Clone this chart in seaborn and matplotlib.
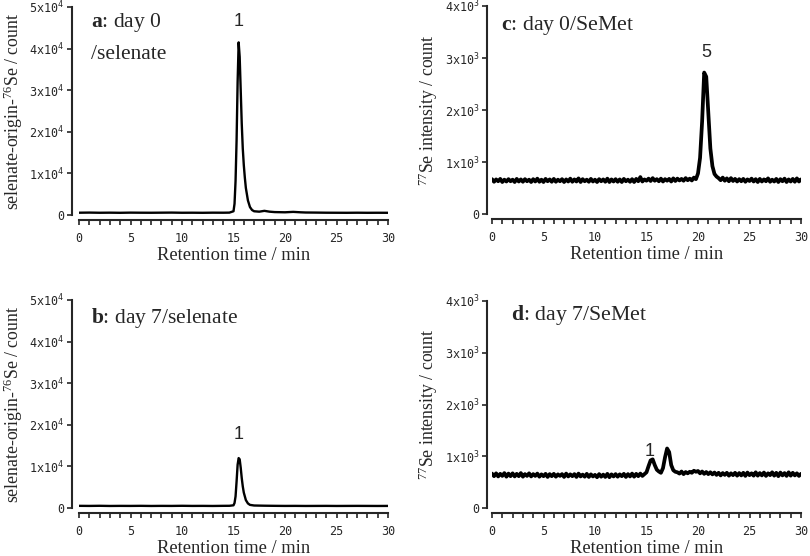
import numpy as np
import matplotlib
matplotlib.use("Agg")
import matplotlib.pyplot as plt
import seaborn as sns

# --- data ----------------------------------------------------------------
# a: day 0 / selenate (76Se, counts)
time_a = [0, 1, 2, 3, 4, 5, 6, 7, 8, 9, 10, 11, 12, 13, 14, 14.6, 15.0, 15.1,
          15.2, 15.3, 15.4, 15.5, 15.6, 15.7, 15.8, 15.9, 16.0, 16.1, 16.2, 16.4,
          16.6, 16.8, 17.0, 17.5, 18.0, 18.5, 19, 20, 20.8, 21.5, 22, 23, 24,
          25, 26, 27, 28, 29, 30]
signal_a = [550, 580, 540, 560, 530, 570, 550, 540, 560, 580, 540, 550, 530, 560,
            550, 570, 900, 2700, 8200, 18000, 32000, 41500, 38000, 30000, 22000,
            16000, 12000, 9000, 6500, 3500, 1900, 1200, 900, 800, 1000, 800, 700,
            650, 750, 650, 600, 580, 550, 540, 530, 550, 530, 540, 530]

# b: day 7 / selenate
time_b = [0, 1, 2, 3, 4, 5, 6, 7, 8, 9, 10, 11, 12, 13, 14, 14.6, 15.0, 15.1,
          15.2, 15.3, 15.4, 15.5, 15.6, 15.7, 15.8, 15.9, 16.0, 16.2, 16.4, 16.6,
          17.0, 18, 19, 20, 21, 22, 23, 24, 25, 26, 27, 28, 29, 30]
signal_b = [520, 500, 530, 490, 510, 500, 520, 490, 510, 500, 530, 500, 510, 490,
            520, 530, 650, 1200, 2800, 6400, 10400, 12000, 11700, 9700, 7200,
            5200, 3700, 1900, 1100, 750, 600, 550, 520, 500, 510, 490, 500, 510,
            490, 500, 510, 500, 490, 500]

# c and d: 77Se intensity sampled every 0.2 min from 0 to 30 min
time_cd = np.round(np.linspace(0, 30, 151), 1)
signal_c = [670, 620, 665, 630, 675, 615, 660, 625, 670, 630,
            660, 615, 675, 625, 665, 620, 670, 630, 660, 615,
            670, 625, 680, 620, 660, 615, 675, 630, 665, 620,
            675, 620, 660, 630, 670, 615, 665, 625, 680, 620,
            665, 625, 685, 615, 670, 630, 660, 620, 675, 625,
            660, 615, 670, 630, 665, 620, 680, 615, 665, 625,
            670, 620, 665, 615, 675, 630, 660, 620, 670, 615,
            675, 630, 710, 625, 665, 640, 680, 635, 690, 640,
            670, 630, 680, 625, 670, 640, 675, 625, 685, 635,
            680, 645, 675, 640, 690, 650, 680, 645, 700, 670,
            780, 1080, 1780, 2720, 2640, 1960, 1260, 920, 770, 720,
            690, 650, 700, 640, 685, 630, 690, 635, 675, 625,
            670, 630, 675, 620, 665, 635, 680, 625, 670, 615,
            675, 625, 665, 630, 685, 620, 660, 625, 675, 615,
            670, 630, 680, 615, 665, 625, 675, 620, 685, 625,
            665]
signal_d = [665, 615, 670, 610, 660, 620, 675, 605, 665, 615,
            670, 610, 660, 615, 675, 605, 655, 620, 670, 610,
            655, 620, 665, 605, 650, 615, 660, 600, 655, 615,
            660, 605, 650, 620, 655, 600, 665, 610, 650, 615,
            655, 600, 665, 610, 645, 605, 660, 600, 650, 610,
            640, 595, 655, 605, 645, 600, 660, 595, 650, 610,
            655, 605, 650, 615, 660, 600, 655, 610, 665, 605,
            660, 615, 665, 620, 655, 690, 810, 920, 940, 830,
            740, 705, 680, 770, 980, 1150, 1080, 830, 730, 700,
            690, 665, 705, 655, 695, 670, 700, 680, 720, 700,
            715, 670, 705, 660, 695, 655, 690, 650, 685, 640,
            680, 630, 675, 640, 680, 625, 670, 635, 680, 625,
            675, 630, 680, 620, 685, 635, 670, 625, 690, 625,
            675, 630, 685, 620, 670, 635, 690, 625, 680, 615,
            685, 630, 675, 620, 690, 625, 680, 630, 670, 620,
            660]

x_ticks = [0, 5, 10, 15, 20, 25, 30]
yticks_se76 = [0, 1e4, 2e4, 3e4, 4e4, 5e4]
ytick_labels_se76 = ["0", "1x10$^4$", "2x10$^4$", "3x10$^4$", "4x10$^4$", "5x10$^4$"]
yticks_se77 = [0, 1e3, 2e3, 3e3, 4e3]
ytick_labels_se77 = ["0", "1x10$^3$", "2x10$^3$", "3x10$^3$", "4x10$^3$"]

# --- style ---------------------------------------------------------------
sns.set_style("ticks")
plt.rcParams["font.family"] = ["Liberation Serif", "DejaVu Serif"]
plt.rcParams["mathtext.fontset"] = "custom"
plt.rcParams["mathtext.rm"] = "Liberation Serif"
plt.rcParams["mathtext.bf"] = "Liberation Serif:bold"
plt.rcParams["mathtext.default"] = "regular"

W, H = 810, 556
fig = plt.figure(figsize=(W / 100, H / 100), dpi=100)


def make_axes(left, top, right, bottom):
    # pixel box -> figure fraction
    return fig.add_axes([left / W, 1 - bottom / H, (right - left) / W, (bottom - top) / H])


ax_a = make_axes(79, 7, 388, 215)
ax_b = make_axes(79, 300, 388, 508)
ax_c = make_axes(492, 6, 801, 214)
ax_d = make_axes(492, 301, 801, 508)

panels = [
    (ax_a, time_a, signal_a, yticks_se76, ytick_labels_se76, 5e4, 5.0,
     r"selenate-origin-$^{76}$Se / count", 1.7),
    (ax_b, time_b, signal_b, yticks_se76, ytick_labels_se76, 5e4, 5.0,
     r"selenate-origin-$^{76}$Se / count", 1.7),
    (ax_c, time_cd, signal_c, yticks_se77, ytick_labels_se77, 4e3, 3.7,
     r"$^{77}$Se intensity / count", 2.7),
    (ax_d, time_cd, signal_d, yticks_se77, ytick_labels_se77, 4e3, 3.7,
     r"$^{77}$Se intensity / count", 2.7),
]

for ax, t, s, yt, ytl, ymax, left_out, ylab, lw in panels:
    sns.lineplot(x=list(t), y=s, ax=ax, color="black", linewidth=lw,
                 estimator=None, sort=False)
    ax.set_xlim(0, 30)
    ax.set_ylim(0, ymax)
    sns.despine(ax=ax)
    ax.spines["left"].set_position(("outward", left_out))
    ax.spines["bottom"].set_position(("outward", 3.7))
    for sp in ("left", "bottom"):
        ax.spines[sp].set_linewidth(1.5)
    ax.set_xticks(x_ticks)
    ax.set_xticks(range(0, 31), minor=True)
    ax.set_xticklabels([str(v) for v in x_ticks],
                       family="DejaVu Sans Mono", fontsize=8.5)
    ax.set_yticks(yt)
    ax.set_yticklabels(ytl, family="DejaVu Sans Mono", fontsize=8.5)
    ax.tick_params(axis="x", which="both", direction="out", length=3.5,
                   width=1.2, pad=5)
    ax.tick_params(axis="y", direction="out", length=3.5, width=1.2, pad=2)
    ax.set_xlabel("Retention time / min", fontsize=13.3, labelpad=1.5)
    ax.set_ylabel(ylab, fontsize=12.8, labelpad=3)

# panel titles
ax_a.text(0.04, 0.925, r"$\mathbf{a}$: day 0", transform=ax_a.transAxes,
          fontsize=15.5, va="center", ha="left")
ax_a.text(0.04, 0.77, "/selenate", transform=ax_a.transAxes,
          fontsize=15.5, va="center", ha="left")
ax_b.text(0.04, 0.915, r"$\mathbf{b}$: day 7/selenate", transform=ax_b.transAxes,
          fontsize=15.5, va="center", ha="left")
ax_c.text(0.03, 0.905, r"$\mathbf{c}$: day 0/SeMet", transform=ax_c.transAxes,
          fontsize=15.7, va="center", ha="left")
ax_d.text(0.06, 0.93, r"$\mathbf{d}$: day 7/SeMet", transform=ax_d.transAxes,
          fontsize=15.7, va="center", ha="left")

# peak numbers
peak_font = dict(family="Liberation Sans", fontsize=13, ha="center", va="center")
ax_a.text(15.5, 4.64e4, "1", **peak_font)
ax_b.text(15.45, 1.76e4, "1", **peak_font)
ax_c.text(20.85, 3.1e3, "5", **peak_font)
ax_d.text(15.35, 1.1e3, "1", **peak_font)

fig.savefig("out.png", dpi=100)
